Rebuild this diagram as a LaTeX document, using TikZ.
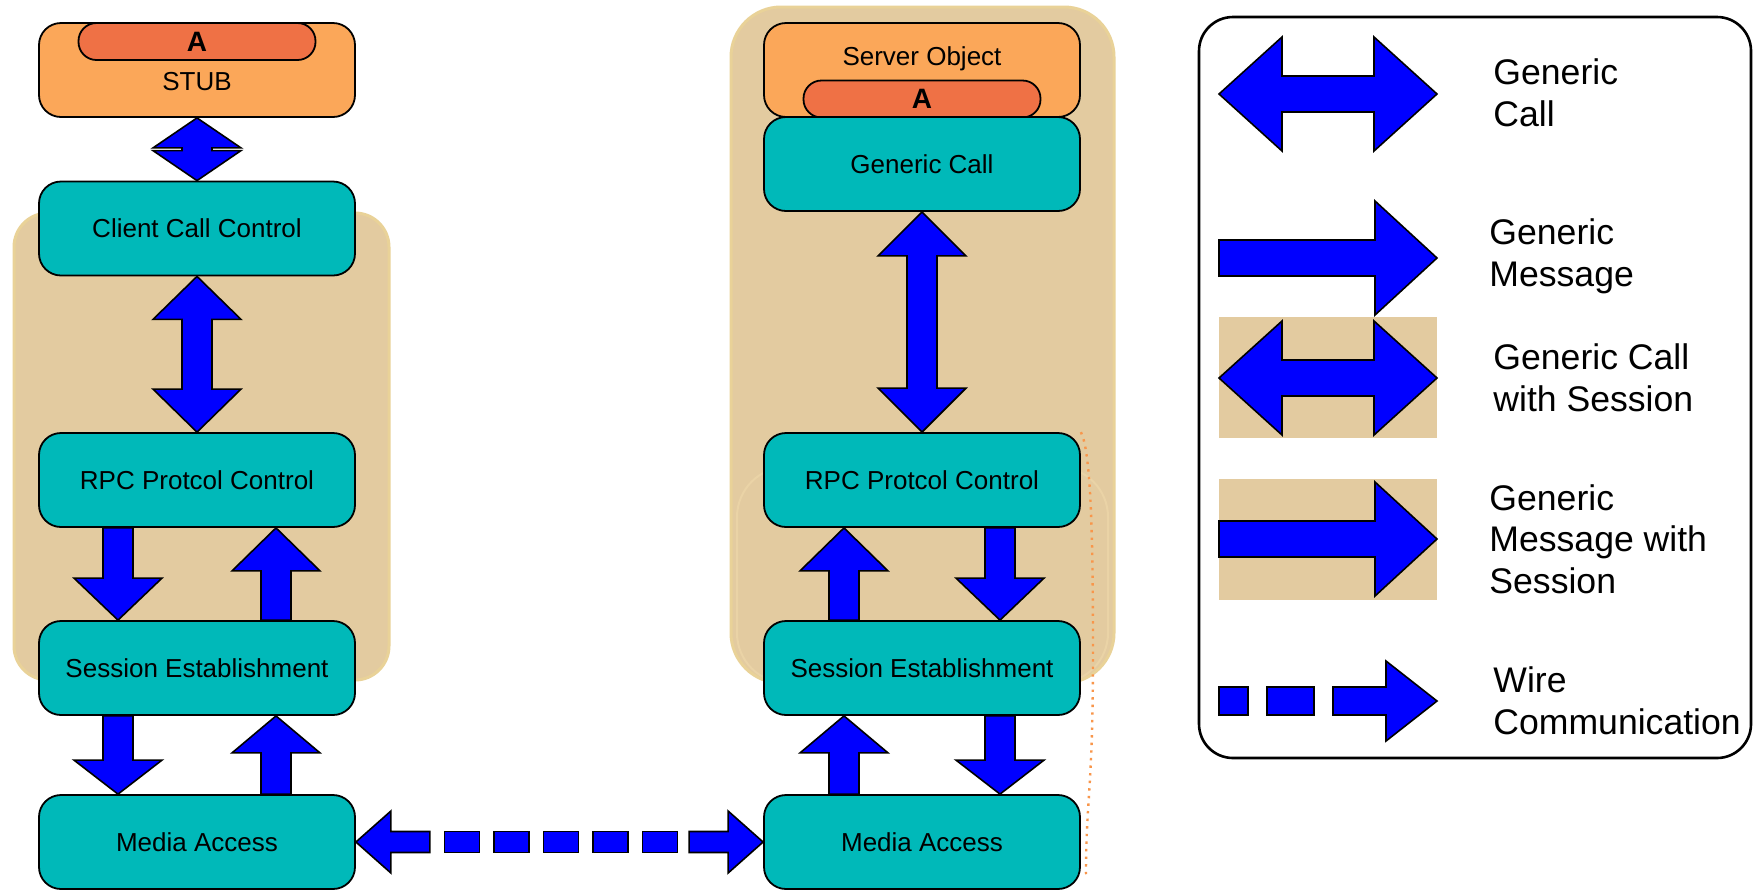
\documentclass[tikz,border=0pt]{standalone}
\usepackage{fontspec}
\setmainfont{Liberation Sans}
\usetikzlibrary{calc}

\definecolor{layerteal}{RGB}{0,185,185}
\definecolor{arrowblue}{RGB}{0,0,255}
\definecolor{stuborange}{RGB}{251,167,89}
\definecolor{ifaceorange}{RGB}{239,113,69}
\definecolor{sessiontan}{RGB}{227,203,160}
\definecolor{tanedge}{RGB}{233,210,152}
\definecolor{tanlight}{RGB}{234,211,166}
\definecolor{dotorange}{RGB}{248,150,75}

% block arrows: start, end, shaft half width, head half width, head length
\newcommand{\msgarrow}[5]{%
  \path (#1) coordinate (ma) (#2) coordinate (mb) ($(mb)!#5!(ma)$) coordinate (mh);
  \draw[blockarr] ($(ma)!#3!90:(mb)$) -- ($(mh)!#3!90:(mb)$) -- ($(mh)!#4!90:(mb)$) -- (mb)
    -- ($(mh)!#4!-90:(mb)$) -- ($(mh)!#3!-90:(mb)$) -- ($(ma)!#3!-90:(mb)$) -- cycle;}
\newcommand{\callarrow}[5]{%
  \path (#1) coordinate (ma) (#2) coordinate (mb)
    ($(ma)!#5!(mb)$) coordinate (mg) ($(mb)!#5!(ma)$) coordinate (mh);
  \draw[blockarr] (ma) -- ($(mg)!#4!90:(mb)$) -- ($(mg)!#3!90:(mb)$) -- ($(mh)!#3!90:(mb)$)
    -- ($(mh)!#4!90:(mb)$) -- (mb) -- ($(mh)!#4!-90:(mb)$) -- ($(mh)!#3!-90:(mb)$)
    -- ($(mg)!#3!-90:(mb)$) -- ($(mg)!#4!-90:(mb)$) -- cycle;}

\begin{document}
\begin{tikzpicture}[x=0.5pt, y=-0.5pt,
    font=\fontsize{13}{15.6}\selectfont,
    layer/.style={draw, line width=0.9pt, fill=layerteal, rounded corners=11pt,
      minimum width=158pt, minimum height=47pt, inner sep=0pt},
    objbox/.style={layer, fill=stuborange},
    iface/.style={draw, line width=0.9pt, fill=ifaceorange, rounded corners=9pt,
      minimum width=118.5pt, minimum height=18.5pt, inner sep=0pt,
      font=\fontsize{14}{16}\selectfont\bfseries},
    session/.style={fill=sessiontan, draw=tanedge, line width=1.5pt},
    blockarr/.style={draw, line width=0.8pt, fill=arrowblue},
    legtext/.style={anchor=west, align=left, inner sep=0pt,
      font=\fontsize{17.8}{20.8}\selectfont}
  ]
  \fill[white] (0,0) rectangle (1760,890);
  \useasboundingbox (0,0) rectangle (1760,890);

  % session areas
  \draw[session, rounded corners=17pt] (14,213) rectangle (389,680);
  \draw[session, rounded corners=25pt] (731,7) rectangle (1114,683);
  \draw[tanlight, line width=1pt, rounded corners=25pt] (737,467) rectangle (1108,683);

  % client side
  \node[objbox] (stub) at (197,70) {};
  \node[iface] (ifaceL) at (197,41.5) {A};
  \node (stubtext) at (197,82) {STUB};
  \node[layer] (callL) at (197,228.5) {Client Call Control};
  \node[layer] (rpcL) at (197,480) {RPC Protcol Control};
  \node[layer] (sessL) at (197,668) {Session Establishment};
  \node[layer] (mediaL) at (197,842) {Media Access};

  % server side
  \node[objbox] (server) at (922,70) {};
  \node (servertext) at (922,59) {Server Object};
  \node[iface] (ifaceR) at (922,99) {A};
  \node[layer] (gencall) at (922,164) {Generic Call};
  \node[layer] (rpcR) at (922,480) {RPC Protcol Control};
  \node[layer] (sessR) at (922,668) {Session Establishment};
  \node[layer] (mediaR) at (922,842) {Media Access};

  \draw[dotorange, line width=1.2pt, dash pattern=on 1.2pt off 2.6pt]
    (rpcR.north east) .. controls (1090,450) and (1093,520) .. (1093,650)
    .. controls (1093,790) and (1086,800) .. (1086,873) -- ($(mediaR.south east)+(0,-16)$);

  % client arrows
  \callarrow{stub.south}{callL.north}{7.5pt}{22pt}{15pt}
  \callarrow{callL.south}{rpcL.north}{7.5pt}{22pt}{21.5pt}
  \msgarrow{$(rpcL.south)+(-79,0)$}{$(sessL.north)+(-79,0)$}{7.5pt}{22pt}{21pt}
  \msgarrow{$(sessL.north)+(79,0)$}{$(rpcL.south)+(79,0)$}{7.5pt}{22pt}{21.5pt}
  \msgarrow{$(sessL.south)+(-79,0)$}{$(mediaL.north)+(-79,0)$}{7.5pt}{22pt}{17pt}
  \msgarrow{$(mediaL.north)+(79,0)$}{$(sessL.south)+(79,0)$}{7.5pt}{22pt}{18.5pt}

  % server arrows
  \callarrow{gencall.south}{rpcR.north}{7.5pt}{22pt}{22pt}
  \msgarrow{$(sessR.north)+(-78,0)$}{$(rpcR.south)+(-78,0)$}{7.5pt}{22pt}{21.5pt}
  \msgarrow{$(rpcR.south)+(78,0)$}{$(sessR.north)+(78,0)$}{7.5pt}{22pt}{21pt}
  \msgarrow{$(mediaR.north)+(-78,0)$}{$(sessR.south)+(-78,0)$}{7.5pt}{22pt}{18.5pt}
  \msgarrow{$(sessR.south)+(78,0)$}{$(mediaR.north)+(78,0)$}{7.5pt}{22pt}{17pt}

  % wire between the media layers
  \coordinate (wireL) at ($(mediaL.east)+(74,0)$);
  \coordinate (wireR) at ($(mediaR.west)+(-74,0)$);
  \msgarrow{wireL}{mediaL.east}{5.25pt}{15.5pt}{17.5pt}
  \msgarrow{wireR}{mediaR.west}{5.25pt}{15.5pt}{17.5pt}
  \foreach \i in {0,...,4}
    \draw[blockarr] ($(wireL)+(14.5+49.5*\i,-10.5)$) rectangle +(35,21);

  % legend
  \draw[line width=1.3pt, rounded corners=17pt] (1199,17) rectangle (1751,758);
  \callarrow{1219,94}{1437,94}{9pt}{28.5pt}{31.5pt}
  \node[legtext] (lgcall) at (1493,93) {Generic\\Call};
  \msgarrow{1219,258}{1437,258}{9pt}{28.5pt}{31pt}
  \node[legtext] (lgmsg) at (1489,256) {Generic\\Message};
  \fill[sessiontan] (1219,317) rectangle (1437,438);
  \callarrow{1219,378}{1437,378}{9pt}{28.5pt}{31.5pt}
  \node[legtext] (lgcallsess) at (1493,378) {Generic Call\\with Session};
  \fill[sessiontan] (1219,479) rectangle (1437,600);
  \msgarrow{1219,539}{1437,539}{9pt}{28.5pt}{31pt}
  \node[legtext] (lgmsgsess) at (1489,539) {Generic\\Message with\\Session};
  \draw[blockarr] (1219,687) rectangle (1248,715);
  \draw[blockarr] (1267,687) rectangle (1314,715);
  \msgarrow{1333,701}{1437,701}{7pt}{20pt}{25.5pt}
  \node[legtext] (lgwire) at (1493,701) {Wire\\Communication};
\end{tikzpicture}
\end{document}
